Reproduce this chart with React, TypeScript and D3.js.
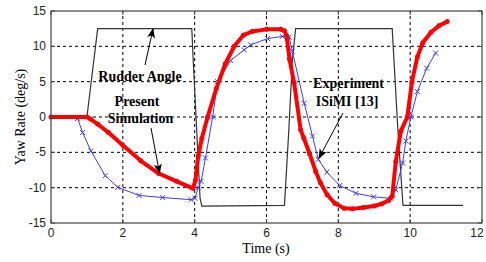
import React from 'react';
import * as d3 from 'd3';

// time (s), yaw rate (deg/s)
const simT = [0, 1.0, 1.1, 1.3, 1.6, 2.0, 2.5, 3.0, 3.5, 3.95, 4.02, 4.1, 4.2, 4.36, 4.6, 4.85, 5.1, 5.36, 5.6, 6.0, 6.4, 6.5, 6.56, 6.64, 6.77, 6.95, 7.04, 7.2, 7.37, 7.5, 7.69, 7.9, 8.16, 8.4, 8.7, 9.0, 9.2, 9.4, 9.5, 9.6, 9.74, 9.92, 10.05, 10.2, 10.35, 10.58, 10.8, 11.03];
const simY = [0, 0, -0.3, -1.0, -2.2, -4.0, -6.2, -8.0, -9.1, -10.1, -9, -5.5, -3, 0, 4, 7.5, 10, 11.6, 12.1, 12.4, 12.4, 12.2, 11.5, 8.2, 4.8, -1.8, -3, -5.2, -7.7, -9.3, -11, -12.2, -12.9, -13, -12.8, -12.6, -12.3, -11.8, -11.2, -6.3, -2, 0, 5, 8.5, 10.5, 12, 12.9, 13.5];

const expT = [0, 0.3, 0.74, 0.88, 1.11, 1.51, 1.86, 2.45, 3.11, 3.9, 4.01, 4.1, 4.18, 4.3, 4.5, 4.64, 5.0, 5.38, 5.56, 6.03, 6.44, 6.63, 6.72, 7.05, 7.28, 7.44, 7.68, 8.04, 8.49, 8.98, 9.46, 9.6, 9.79, 9.88, 10.02, 10.2, 10.46, 10.71];
const expY = [0, 0, -0.2, -2.2, -4.8, -8.3, -9.95, -11.1, -11.4, -11.7, -11.5, -10, -9.1, -5.8, 0, 5, 8, 9.5, 10.2, 11.1, 11.4, 11.3, 9.3, 1.95, -2.7, -6.0, -7.8, -9.7, -10.8, -11.3, -11.5, -10.3, -6.5, -3.4, 0, 3.6, 6.9, 9.05];

const rudT = [0, 1.0, 1.3, 3.92, 3.96, 4.15, 4.2, 6.5, 6.62, 6.72, 6.81, 9.5, 9.66, 9.8, 11.47];
const rudY = [0, 0, 12.5, 12.5, 8, -11.5, -12.6, -12.5, -2, 8, 12.5, 12.5, -2, -12.5, -12.5];

const xTicks = [0, 2, 4, 6, 8, 10, 12];
const yTicks = [-15, -10, -5, 0, 5, 10, 15];

const W = 486;
const H = 262;
const x = d3.scaleLinear().domain([0, 12]).range([51, 482]);
const y = d3.scaleLinear().domain([-15, 15]).range([223, 11]);

const toPts = (ts: number[], ys: number[]) => ts.map((t, i) => [t, ys[i]] as [number, number]);
const line = d3.line<[number, number]>().x(d => x(d[0])).y(d => y(d[1]));

const serif = 'Liberation Serif, Times New Roman, serif';
const sans = 'Liberation Sans, Arial, sans-serif';

const App = () => {
  const sim = toPts(simT, simY);
  const exp = toPts(expT, expY);
  const rud = toPts(rudT, rudY);
  const gridX = xTicks.slice(1, -1);
  const gridY = yTicks.slice(1, -1);
  return (
    <svg width={W} height={H} style={{ position: 'absolute', left: 0, top: 0, background: '#fff' }}>
      <defs>
        <marker id="ah" viewBox="0 0 10 10" refX="9" refY="5" markerWidth="10" markerHeight="10" orient="auto" markerUnits="userSpaceOnUse">
          <path d="M0,1 L10,5 L0,9 L2.5,5 Z" fill="#000" />
        </marker>
      </defs>
      {gridX.map(t => (
        <line key={'gx' + t} x1={x(t)} x2={x(t)} y1={y(-15)} y2={y(15)} stroke="#000" strokeWidth={1} strokeDasharray="3,3" />
      ))}
      {gridY.map(v => (
        <line key={'gy' + v} x1={x(0)} x2={x(12)} y1={y(v)} y2={y(v)} stroke="#000" strokeWidth={1} strokeDasharray="3,3" />
      ))}
      <path d={line(rud) || ''} fill="none" stroke="#333" strokeWidth={1.2} />
      <path d={line(exp) || ''} fill="none" stroke="#3b3bff" strokeWidth={1} />
      {exp.slice(2).map((p, i) => (
        <path key={'ex' + i} d={`M${x(p[0]) - 2.5},${y(p[1]) - 2.5}L${x(p[0]) + 2.5},${y(p[1]) + 2.5}M${x(p[0]) - 2.5},${y(p[1]) + 2.5}L${x(p[0]) + 2.5},${y(p[1]) - 2.5}`} stroke="#3b3bff" strokeWidth={1} />
      ))}
      <path d={line(sim) || ''} fill="none" stroke="#ff0000" strokeWidth={4} strokeLinejoin="round" />
      {sim.map((p, i) => (
        <circle key={'sm' + i} cx={x(p[0])} cy={y(p[1])} r={2.5} fill="#ff0000" />
      ))}
      <rect x={x(0)} y={y(15)} width={x(12) - x(0)} height={y(-15) - y(15)} fill="none" stroke="#444" strokeWidth={1.2} />
      {xTicks.map(t => (
        <g key={'xt' + t}>
          <line x1={x(t)} x2={x(t)} y1={y(-15)} y2={y(-15) - 4} stroke="#444" />
          <line x1={x(t)} x2={x(t)} y1={y(15)} y2={y(15) + 4} stroke="#444" />
          <text x={t === 12 ? 477 : x(t)} y={237} textAnchor="middle" fontFamily={sans} fontSize={12} fill="#222">{t}</text>
        </g>
      ))}
      {yTicks.map(v => (
        <g key={'yt' + v}>
          <line x1={x(0)} x2={x(0) + 4} y1={y(v)} y2={y(v)} stroke="#444" />
          <line x1={x(12)} x2={x(12) - 4} y1={y(v)} y2={y(v)} stroke="#444" />
          <text x={46} y={y(v) + 4} textAnchor="end" fontFamily={sans} fontSize={12} fill="#222">{v}</text>
        </g>
      ))}
      <text x={266} y={253} textAnchor="middle" fontFamily={serif} fontSize={14}>Time (s)</text>
      <text transform={`translate(25,${y(0)}) rotate(-90)`} textAnchor="middle" fontFamily={serif} fontSize={14}>Yaw Rate (deg/s)</text>

      <g fontFamily={serif} fontSize={14} fontWeight="bold" textAnchor="middle">
        <text x={140} y={81}>Rudder Angle</text>
        <text x={137} y={106}>Present</text>
        <text x={140.5} y={123}>Simulation</text>
        <text x={348.5} y={88}>Experiment</text>
        <text x={347} y={106}>ISiMI [13]</text>
      </g>
      <line x1={145} y1={65} x2={153} y2={29} stroke="#000" strokeWidth={1} markerEnd="url(#ah)" />
      <line x1={151} y1={128} x2={159.5} y2={173} stroke="#000" strokeWidth={1} markerEnd="url(#ah)" />
      <line x1={343} y1={113} x2={319} y2={158} stroke="#000" strokeWidth={1} markerEnd="url(#ah)" />
    </svg>
  );
};

export default App;
